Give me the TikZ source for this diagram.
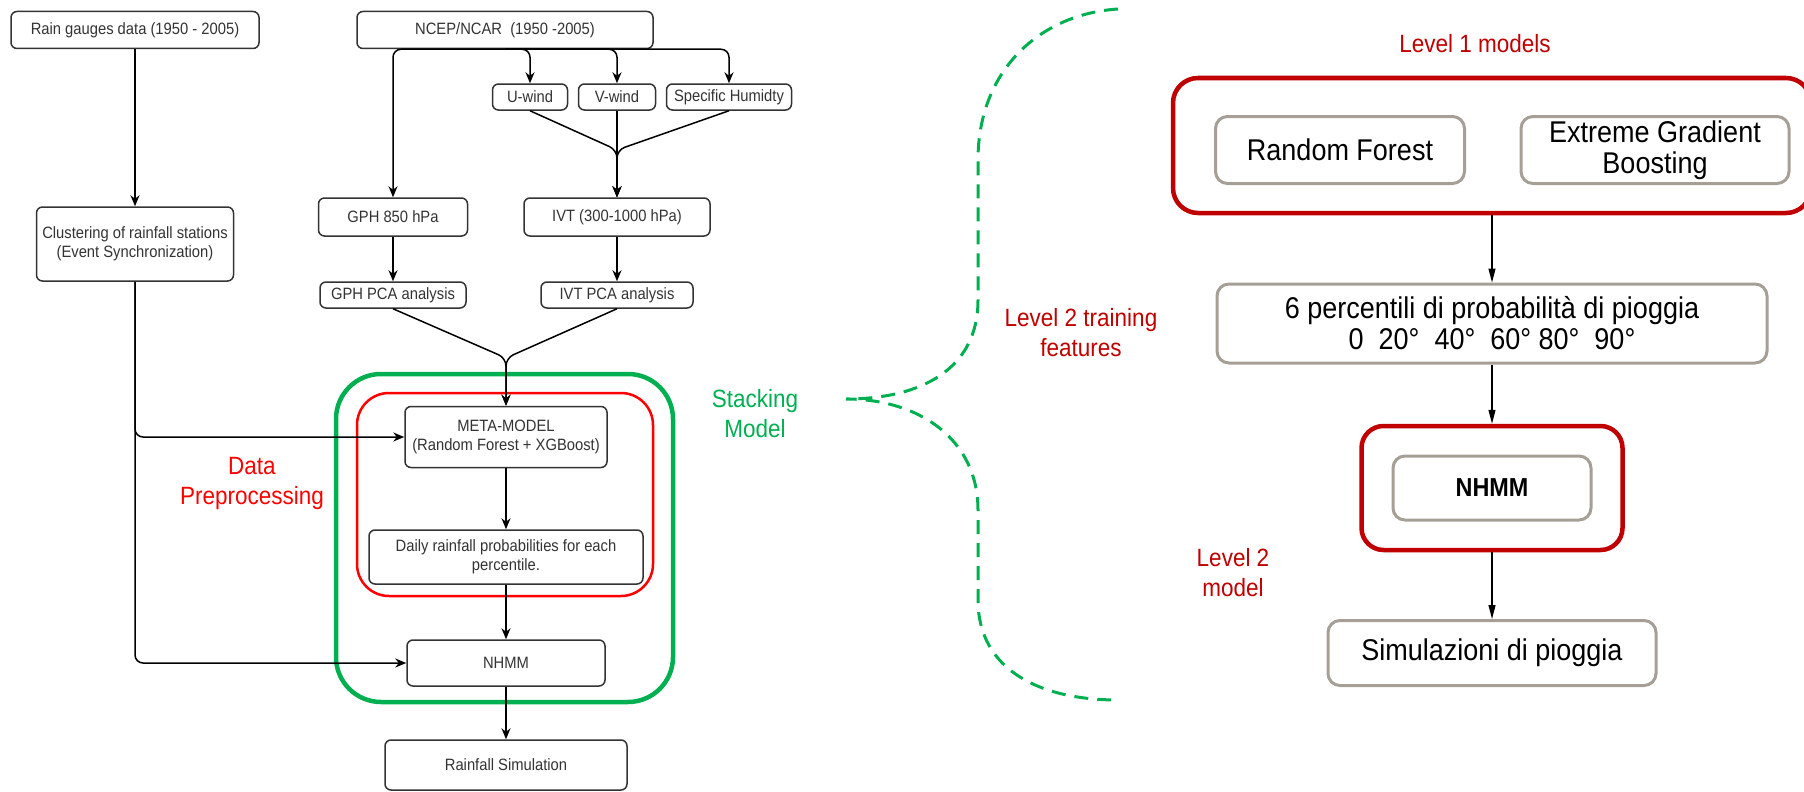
\documentclass[tikz,border=0pt]{standalone}
\usepackage{fontspec}
\setmainfont[FakeStretch=0.9]{Liberation Sans}
\usetikzlibrary{arrows.meta}

\definecolor{stackgreen}{HTML}{00B050}
\definecolor{prepred}{HTML}{FF0000}
\definecolor{levelred}{HTML}{C00000}
\definecolor{boxgray}{HTML}{A69F95}
\definecolor{flowgray}{HTML}{333333}

\begin{document}
\begin{tikzpicture}[x=1pt, y=-1pt,
    flow/.style={draw=flowgray, line width=1.5pt, rounded corners=6pt, fill=white,
      text=flowgray, align=center, inner sep=0pt, font=\fontsize{16.4}{19}\selectfont},
    model/.style={draw=boxgray, line width=3pt, rounded corners=12pt, fill=white,
      align=center, inner sep=0pt, font=\fontsize{30}{31}\selectfont},
    arr/.style={-{Stealth[length=11pt,width=9pt]}, line width=1.5pt, rounded corners=8pt},
    arrthin/.style={-{Triangle[length=14pt,width=7pt]}, line width=1.2pt},
    tag/.style={align=center, font=\fontsize{25}{30}\selectfont}]
  \useasboundingbox (0,0) rectangle (1804,792);

  % Stacking and preprocessing frames
  \node[draw=stackgreen, line width=4.5pt, rounded corners=45pt, minimum width=337pt, minimum height=328pt] (stackbox) at (504.5,538) {};
  \node[draw=prepred, line width=2.5pt, rounded corners=32pt, minimum width=296pt, minimum height=203pt] (prepbox) at (505,494.5) {};

  % Input data
  \node[flow, minimum width=248pt, minimum height=37pt] (rain) at (135,30) {Rain gauges data (1950 - 2005)};
  \node[flow, minimum width=296pt, minimum height=37pt] (ncep) at (505,30) {NCEP/NCAR~~(1950 -2005)};
  \node[flow, minimum width=75pt, minimum height=26pt] (uwind) at (530,97) {U-wind};
  \node[flow, minimum width=77pt, minimum height=26pt] (vwind) at (617,97) {V-wind};
  \node[flow, minimum width=125pt, minimum height=26pt] (humid) at (729,97) {Specific Humidty};
  % Predictors
  \node[flow, minimum width=149pt, minimum height=38pt] (gph) at (393,217) {GPH 850 hPa};
  \node[flow, minimum width=186pt, minimum height=38pt] (ivt) at (617,217) {IVT (300-1000 hPa)};
  \node[flow, minimum width=197pt, minimum height=74pt] (clust) at (135,244) {Clustering of rainfall stations\\(Event Synchronization)};
  \node[flow, minimum width=146pt, minimum height=26pt] (gphpca) at (393,295) {GPH PCA analysis};
  \node[flow, minimum width=152pt, minimum height=26pt] (ivtpca) at (617,295) {IVT PCA analysis};
  % Models
  \node[flow, minimum width=202pt, minimum height=61pt] (meta) at (506,437) {META-MODEL\\(Random Forest + XGBoost)};
  \node[flow, minimum width=274pt, minimum height=54pt] (daily) at (506,557) {Daily rainfall probabilities for each\\percentile.};
  \node[flow, minimum width=198pt, minimum height=46pt] (nhmm) at (506,663) {NHMM};
  \node[flow, minimum width=242pt, minimum height=50pt] (rainsim) at (506,765) {Rainfall Simulation};

  % Labels
  \node[tag, text=prepred] (preplabel) at (252,483) {Data\\Preprocessing};
  \node[tag, text=stackgreen] (stacklabel) at (755,414) {Stacking\\Model};

  % Connectors
  \draw[arr] (rain) -- (clust);
  \draw[arr] (clust.south) |- (meta.west);
  \draw[arr] (clust.south) |- (nhmm.west);
  \draw[arr] (ncep.south) -| (gph.north);
  \draw[arr] (ncep.south) -| (uwind.north);
  \draw[arr] (ncep.south) -| (vwind.north);
  \draw[arr] (ncep.south) -| (humid.north);
  \coordinate (ivtjoin) at (617,150);
  \draw[arr] (uwind.south) -- (ivtjoin) -- (ivt.north);
  \draw[arr] (vwind.south) -- (ivtjoin) -- (ivt.north);
  \draw[arr] (humid.south) -- (ivtjoin) -- (ivt.north);
  \draw[arr] (gph) -- (gphpca);
  \draw[arr] (ivt) -- (ivtpca);
  \coordinate (pcajoin) at (506,358);
  \draw[arr] (gphpca.south) -- (pcajoin) -- (meta.north);
  \draw[arr] (ivtpca.south) -- (pcajoin) -- (meta.north);
  \draw[arr] (meta) -- (daily);
  \draw[arr] (daily) -- (nhmm);
  \draw[arr] (nhmm) -- (rainsim);

  % Brace towards the detail
  \draw[stackgreen, line width=3pt, dash pattern=on 14pt off 9pt]
    (1118,9) .. controls (1040,14) and (978,70) .. (978,160) -- (978,300)
    .. controls (978,370) and (920,399) .. (846,399)
    .. controls (920,399) and (978,440) .. (978,510) -- (978,600)
    .. controls (978,670) and (1040,700) .. (1118,700);

  % Level 1
  \node[tag, text=levelred] (lvlonelabel) at (1475,44) {Level 1 models};
  \node[draw=levelred, line width=4.5pt, rounded corners=25pt, minimum width=638pt, minimum height=135pt] (lvlone) at (1492,145.5) {};
  \node[model, minimum width=249pt, minimum height=67pt] (rf) at (1340,150) {Random Forest};
  \node[model, minimum width=268pt, minimum height=67pt] (xgb) at (1655,150) {Extreme Gradient\\Boosting};
  % Level 2
  \node[tag, text=levelred] (trainlabel) at (1081,333) {Level 2 training\\features};
  \node[model, minimum width=550pt, minimum height=79pt] (perc) at (1492,323.5) {6 percentili di probabilità di pioggia\\0~~20°~~40°~~60°~80°~~90°};
  \node[draw=levelred, line width=4.5pt, rounded corners=22pt, minimum width=261pt, minimum height=124pt] (lvltwo) at (1492,488) {};
  \node[model, minimum width=198pt, minimum height=64pt, font=\fontsize{26}{31}\selectfont\bfseries] (nhmmr) at (1492,488) {NHMM};
  \node[tag, text=levelred] (lvltwolabel) at (1233,573) {Level 2\\model};
  \node[model, minimum width=328pt, minimum height=65pt] (simul) at (1492,653) {Simulazioni di pioggia};

  \draw[arrthin] (lvlone) -- (perc);
  \draw[arrthin] (perc) -- (lvltwo);
  \draw[arrthin] (lvltwo) -- (simul);
\end{tikzpicture}
\end{document}
